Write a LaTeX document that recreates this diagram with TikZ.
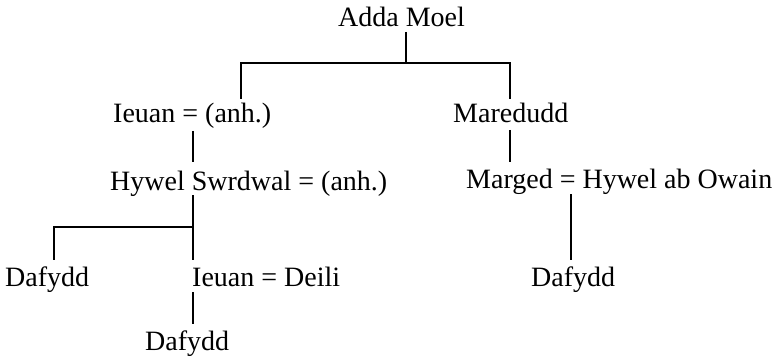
\documentclass[tikz,border=0pt]{standalone}
\usepackage{fontspec}
\setmainfont{Liberation Serif}
\begin{document}
\begin{tikzpicture}[x=1pt,y=-1pt,
  person/.style={anchor=base west, inner sep=0pt, font=\fontsize{28}{32}\selectfont},
  link/.style={line width=2pt}]
\useasboundingbox (0,0) rectangle (778,358);
% people
\node[person] (adda)   at (338,27)  {Adda Moel};
\node[person] (ieuanA) at (113,123) {Ieuan = (anh.)};
\node[person] (mared)  at (453,123) {Maredudd};
\node[person] (hywel)  at (110,190) {Hywel Swrdwal = (anh.)};
\node[person] (marged) at (466,189) {Marged = Hywel ab Owain};
\node[person] (dafA)   at (5,286)   {Dafydd};
\node[person] (ieuanB) at (192,286) {Ieuan = Deili};
\node[person] (dafC)   at (531,286) {Dafydd};
\node[person] (dafB)   at (145,350) {Dafydd};
% junctions
\coordinate (j1)  at (406,63);
\coordinate (j1l) at (241,63);
\coordinate (j1r) at (510,63);
\coordinate (j3)  at (193,227);
\coordinate (j3l) at (54,227);
\coordinate (kx)  at (571,0);
% connectors
\draw[link] ([yshift=-5pt]adda.base -| j1) -- (j1);
\draw[link] ([yshift=24pt]ieuanA.base -| j1l) -- (j1l) -- (j1r) -- ([yshift=24pt]mared.base -| j1r);
\draw[link] ([yshift=-8pt]ieuanA.base -| j3) -- ([yshift=28pt]hywel.base -| j3);
\draw[link] ([yshift=-7pt]mared.base -| j1r) -- ([yshift=27pt]marged.base -| j1r);
\draw[link] ([yshift=-5pt]hywel.base -| j3) -- ([yshift=26pt]ieuanB.base -| j3);
\draw[link] (j3) -- (j3l) -- ([yshift=26pt]dafA.base -| j3l);
\draw[link] ([yshift=-5pt]marged.base -| kx) -- ([yshift=26pt]dafC.base -| kx);
\draw[link] ([yshift=-6pt]ieuanB.base -| j3) -- ([yshift=26pt]dafB.base -| j3);
\end{tikzpicture}
\end{document}
